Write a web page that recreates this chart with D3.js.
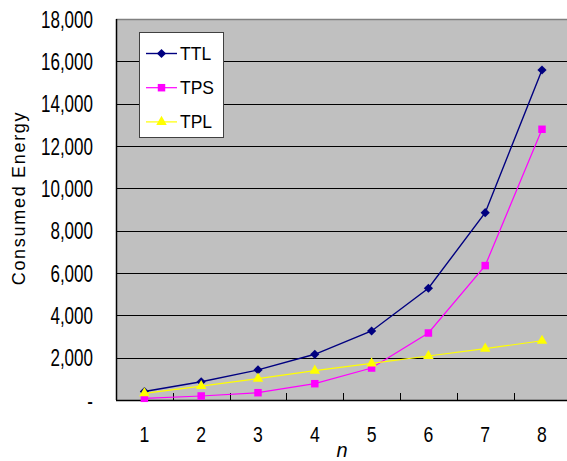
<!DOCTYPE html>
<html>
<head>
<meta charset="utf-8">
<script src="https://cdn.jsdelivr.net/npm/d3@7"></script>
<style>
  html, body { margin: 0; padding: 0; background: #fff; }
  svg { display: block; font-family: "Liberation Sans", Arial, sans-serif; }
</style>
</head>
<body>
<svg id="chart" width="567" height="461"></svg>
<script>
// Problem size n and consumed energy of the three schemes
const categories = [1, 2, 3, 4, 5, 6, 7, 8];
const ttl = [400, 860, 1420, 2160, 3260, 5280, 8850, 15590];
const tps = [80, 190, 345, 770, 1510, 3165, 6350, 12790];
const tpl = [315, 660, 1010, 1385, 1730, 2080, 2425, 2800];
const yTicks = [0, 2000, 4000, 6000, 8000, 10000, 12000, 14000, 16000, 18000];

const seriesList = [
  { name: "TTL", values: ttl, color: "#000080", marker: "diamond", width: 1.4 },
  { name: "TPS", values: tps, color: "#FF00FF", marker: "square", width: 1.2 },
  { name: "TPL", values: tpl, color: "#FFFF00", marker: "triangle", width: 1.2 }
];

const svg = d3.select("#chart");
const plotLeft = 116, plotRight = 570.4, plotTop = 19, plotBottom = 400;

const x = d3.scaleBand().domain(categories).range([plotLeft, plotRight]);
const y = d3.scaleLinear().domain([0, 18000]).range([plotBottom, plotTop]);
const cx = d => x(d) + x.bandwidth() / 2;

// Plot area
svg.append("rect")
  .attr("x", plotLeft).attr("y", plotTop)
  .attr("width", plotRight - plotLeft).attr("height", plotBottom - plotTop)
  .attr("fill", "#C0C0C0");

// Horizontal gridlines
svg.append("g").selectAll("line")
  .data(yTicks.filter(v => v > 0 && v < 18000))
  .join("line")
  .attr("x1", plotLeft).attr("x2", plotRight)
  .attr("y1", d => Math.round(y(d)) + 0.5).attr("y2", d => Math.round(y(d)) + 0.5)
  .attr("stroke", "#000").attr("stroke-width", 1);

// Top border of the plot area
svg.append("line")
  .attr("x1", plotLeft).attr("x2", plotRight)
  .attr("y1", plotTop + 0.5).attr("y2", plotTop + 0.5)
  .attr("stroke", "#808080").attr("stroke-width", 1.5);

// Y axis
const yAxis = d3.axisLeft(y)
  .tickValues(yTicks)
  .tickSize(0)
  .tickFormat(d => d === 0 ? "-" : d3.format(",")(d));
const gy = svg.append("g").attr("transform", `translate(${plotLeft},0)`).call(yAxis);
gy.select(".domain").remove();
gy.selectAll(".tick text")
  .attr("x", 0)
  .attr("dy", "0.36em")
  .attr("text-anchor", "end")
  .attr("transform", "translate(-23,0) scale(0.74,1)")
  .attr("font-size", 23)
  .attr("font-family", "Liberation Sans, Arial, sans-serif")
  .attr("fill", "#000");

svg.append("line")
  .attr("x1", plotLeft + 0.5).attr("x2", plotLeft + 0.5)
  .attr("y1", plotTop).attr("y2", plotBottom)
  .attr("stroke", "#000").attr("stroke-width", 1.5);

// X axis
const xAxis = d3.axisBottom(x).tickSize(0);
const gx = svg.append("g").attr("transform", `translate(0,${plotBottom})`).call(xAxis);
gx.select(".domain").remove();
gx.selectAll(".tick text")
  .attr("y", 0)
  .attr("dy", 0)
  .attr("transform", "translate(0,42) scale(0.8,1)")
  .attr("font-size", 22)
  .attr("font-family", "Liberation Sans, Arial, sans-serif")
  .attr("fill", "#000");

svg.append("line")
  .attr("x1", plotLeft).attr("x2", plotRight)
  .attr("y1", plotBottom + 0.5).attr("y2", plotBottom + 0.5)
  .attr("stroke", "#000").attr("stroke-width", 1.5);

// Category boundary ticks
svg.append("g").selectAll("line")
  .data(categories.slice(1))
  .join("line")
  .attr("x1", d => Math.round(x(d)) + 0.5).attr("x2", d => Math.round(x(d)) + 0.5)
  .attr("y1", plotBottom).attr("y2", plotBottom - 7)
  .attr("stroke", "#000").attr("stroke-width", 1);

// Axis titles
svg.append("text")
  .attr("transform", "translate(25,198) rotate(-90)")
  .attr("text-anchor", "middle")
  .attr("font-size", 18)
  .attr("letter-spacing", 1.7)
  .attr("fill", "#000")
  .text("Consumed Energy");

svg.append("text")
  .attr("x", 342).attr("y", 457)
  .attr("text-anchor", "middle")
  .attr("font-size", 20)
  .attr("font-style", "italic")
  .attr("fill", "#000")
  .text("n");

// Marker shapes
const symbolFor = {
  diamond: d3.symbol().type(d3.symbolDiamond2).size(54),
  square: d3.symbol().type(d3.symbolSquare).size(56),
  triangle: d3.symbol().type(d3.symbolTriangle).size(48)
};

const line = d3.line().x((v, i) => cx(categories[i])).y(v => y(v));

seriesList.forEach(s => {
  svg.append("path")
    .attr("d", line(s.values))
    .attr("fill", "none")
    .attr("stroke", s.color)
    .attr("stroke-width", s.width);
  svg.append("g").selectAll("path")
    .data(s.values)
    .join("path")
    .attr("transform", (v, i) => `translate(${cx(categories[i])},${y(v)})`)
    .attr("d", symbolFor[s.marker]())
    .attr("fill", s.color);
});

// Legend
const legend = svg.append("g");
legend.append("rect")
  .attr("x", 139.5).attr("y", 32.5)
  .attr("width", 84).attr("height", 105)
  .attr("fill", "#fff")
  .attr("stroke", "#404040").attr("stroke-width", 1);

seriesList.forEach((s, i) => {
  const ly = 53.5 + i * 34.2;
  legend.append("line")
    .attr("x1", 146).attr("x2", 177)
    .attr("y1", ly).attr("y2", ly)
    .attr("stroke", s.color).attr("stroke-width", s.width);
  legend.append("path")
    .attr("transform", `translate(161.5,${ly})`)
    .attr("d", symbolFor[s.marker]())
    .attr("fill", s.color);
  legend.append("text")
    .attr("x", 180).attr("y", ly)
    .attr("dy", "0.36em")
    .attr("font-size", 17.5)
    .attr("fill", "#000")
    .text(s.name);
});
</script>
</body>
</html>
